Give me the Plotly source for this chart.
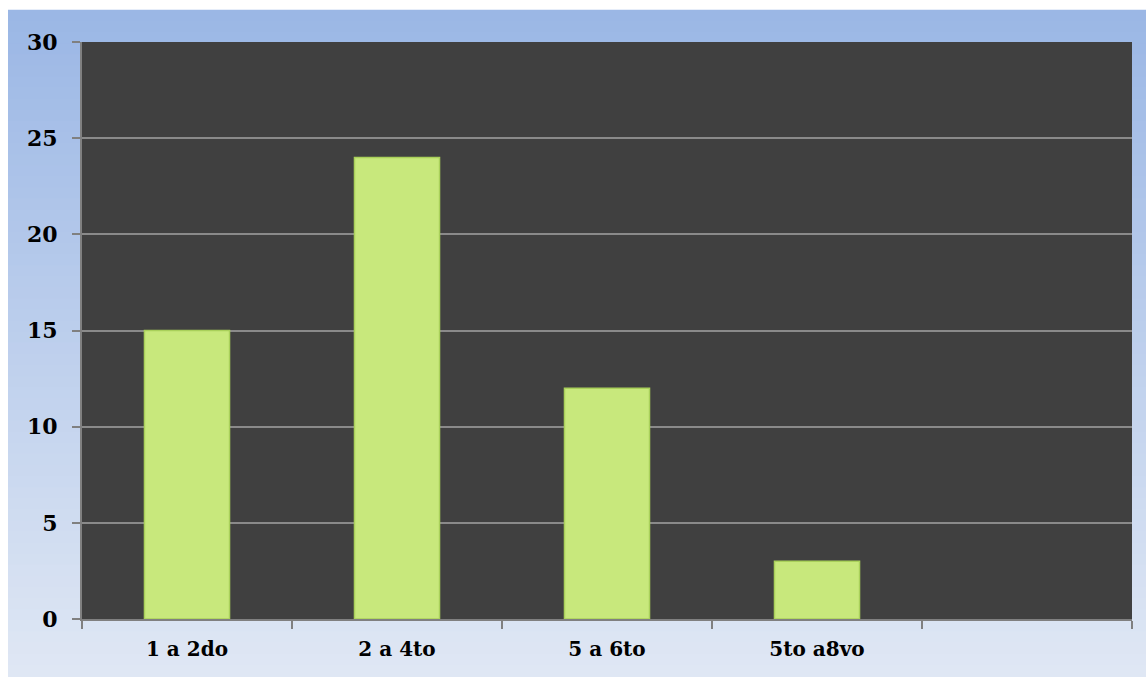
import plotly.graph_objects as go

categories = ["1 a 2do", "2 a 4to", "5 a 6to", "5to a8vo", " "]
values = [15, 24, 12, 3, None]
y_ticks = [0, 5, 10, 15, 20, 25, 30]

W, H = 1146, 677
ml, mr, mt, mb = 82, 14, 42, 58

fig = go.Figure()
fig.add_trace(go.Bar(
    x=categories, y=values, width=0.405,
    marker=dict(color="#c8e87c", line=dict(color="#a9d05a", width=1.5)),
    hoverinfo="x+y",
))

# background gradient (paper coords)
shapes = []
n = 60
top_c = (0x9b, 0xb7, 0xe5)
bot_c = (0xdf, 0xe7, 0xf4)
x0p = (8 - ml) / (W - ml - mr)
x1p = (W - ml) / (W - ml - mr)
y_top = (H - mb - 11) / (H - mt - mb)
y_bot = (H - mb - 677) / (H - mt - mb)
for i in range(n):
    t = i / (n - 1)
    c = tuple(round(top_c[k] + (bot_c[k] - top_c[k]) * t) for k in range(3))
    ya = y_top - (y_top - y_bot) * i / n
    yb = y_top - (y_top - y_bot) * (i + 1) / n
    shapes.append(dict(type="rect", xref="paper", yref="paper", x0=x0p, x1=x1p,
                       y0=yb, y1=ya + 0.002, fillcolor="rgb(%d,%d,%d)" % c,
                       line=dict(width=0), layer="below"))
shapes.append(dict(type="rect", xref="paper", yref="paper", x0=0, x1=1, y0=0, y1=1,
                   fillcolor="#404040", line=dict(width=0), layer="below"))

fig.update_layout(
    width=W, height=H,
    margin=dict(l=ml, r=mr, t=mt, b=mb),
    paper_bgcolor="white",
    plot_bgcolor="rgba(0,0,0,0)",
    shapes=shapes,
    showlegend=False,
    bargap=0.595,
    font=dict(family="DejaVu Serif", size=20, color="#000000"),
    xaxis=dict(
        type="category", range=[-0.5, 4.5],
        tickson="boundaries", ticks="outside", ticklen=8, tickwidth=1.5,
        tickcolor="#808080", showline=True, linecolor="#808080", linewidth=2,
        showgrid=False, tickfont=dict(family="DejaVu Serif", size=20, weight="bold"),
        ticklabelstandoff=11,
    ),
    yaxis=dict(
        range=[0, 30], tickvals=y_ticks, ticks="outside", ticklen=8, tickwidth=1.5,
        tickcolor="#808080", showline=True, linecolor="#808080", linewidth=2,
        showgrid=True, gridcolor="#8a8a8a", gridwidth=1.5, zeroline=False,
        tickfont=dict(family="DejaVu Serif", size=22, weight="bold"),
        ticklabelstandoff=10,
    ),
)

fig.write_html("out.html")
